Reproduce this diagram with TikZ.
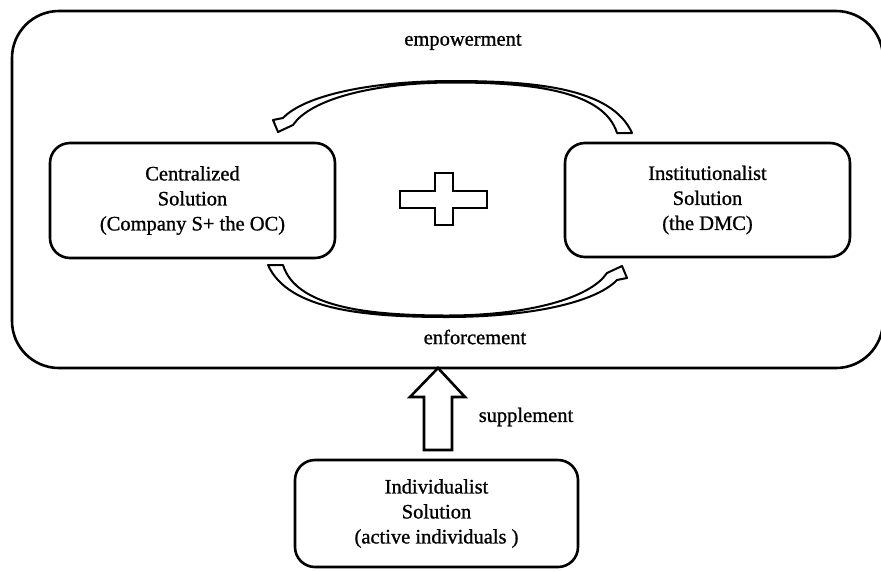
\documentclass[tikz,border=0pt]{standalone}
\usepackage{fontspec}
\setmainfont{Liberation Serif}
\newfontfamily\diagfont{Liberation Serif}[RawFeature={embolden=1.0}]
\tikzset{
  box/.style={draw, line width=2.6pt, rounded corners=20pt, align=center, inner sep=0pt},
  frame/.style={draw, line width=2.6pt, rounded corners=47pt, inner sep=0pt},
  arrowband/.style={draw, fill=white, line width=2pt, line join=round},
  blockarrow/.style={draw, fill=white, line width=2.6pt, line join=miter},
  lbl/.style={inner sep=0pt},
  curvarrow/.pic={
    \path[arrowband] (632,133) .. controls (612,88) and (535,81) .. (453,81)
      .. controls (372,81) and (305,95) .. (283,118)
      -- (273,120) -- (278,132) -- (293,125) -- (297,120)
      .. controls (320,96) and (382,82.5) .. (453,82.5)
      .. controls (533,82.5) and (604,91) .. (617,133) -- cycle;
  }
}
\begin{document}
\begin{tikzpicture}[x=1pt, y=-1pt, font=\diagfont\fontsize{20.5}{25}\selectfont]
\useasboundingbox (0,0) rectangle (881,571);
\fill[white] (0,0) rectangle (881,571);

\node[frame, minimum width=871pt, minimum height=357pt] (frame) at (447.5,189.5) {};

\node[box, minimum width=285pt, minimum height=115pt] (central) at (192.5,200.5)
  {Centralized\\Solution\\(Company S+ the OC)};
\node[box, minimum width=285pt, minimum height=114pt] (inst) at (707.5,200)
  {Institutionalist\\Solution\\(the DMC)};
\node[box, minimum width=283pt, minimum height=107pt] (indiv) at (436.5,513.5)
  {Individualist\\Solution\\(active individuals )};

\pic at (0,0) {curvarrow};
\pic[rotate=180] at (900,398) {curvarrow};

% plus sign
\path[blockarrow] (435,173) -- (453,173) -- (453,191) -- (487,191) -- (487,208)
  -- (453,208) -- (453,225) -- (435,225) -- (435,208) -- (400,208) -- (400,191)
  -- (435,191) -- cycle;

% block arrow upward
\coordinate (tip) at (438,368);
\path[blockarrow] (tip) -- (465,397) -- (452,397) -- (452,450) -- (424,450)
  -- (424,397) -- (410,397) -- cycle;

\node[lbl] (emp) at (463,42) {empowerment};
\node[lbl] (enf) at (475,337) {enforcement};
\node[lbl] (sup) at (526,417) {supplement};
\end{tikzpicture}
\end{document}
